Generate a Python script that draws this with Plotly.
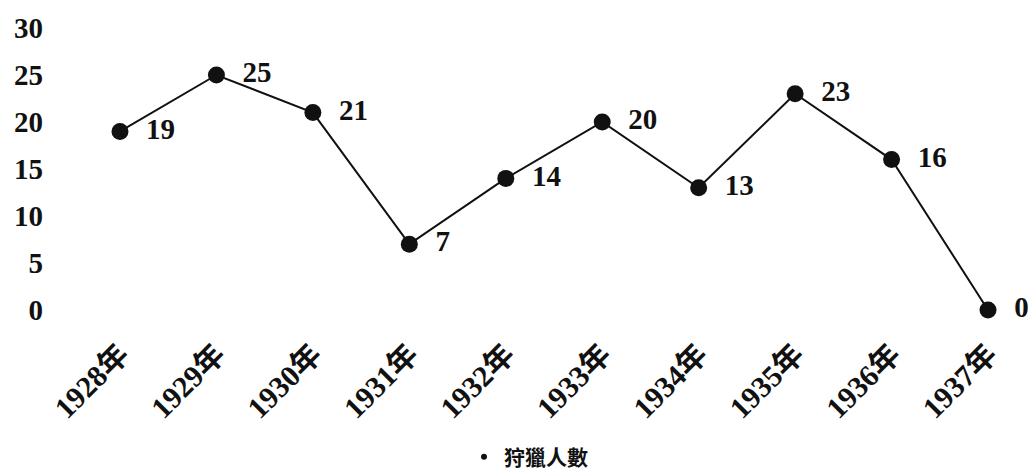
import plotly.graph_objects as go

years = ["1928年", "1929年", "1930年", "1931年", "1932年",
         "1933年", "1934年", "1935年", "1936年", "1937年"]
hunters = [19, 25, 21, 7, 14, 20, 13, 23, 16, 0]
y_ticks = [0, 5, 10, 15, 20, 25, 30]
series_name = "狩獵人數"

serif = "Liberation Serif, Times New Roman, Noto Sans CJK TC, serif"
NB = "\u00a0"

fig = go.Figure()
fig.add_trace(go.Scatter(
    x=years, y=hunters, mode="lines+markers+text",
    text=[NB * 2 + str(v) for v in hunters], textposition="middle right",
    textfont=dict(family=serif, size=29, color="#111", weight="bold"),
    line=dict(color="#111", width=2),
    marker=dict(color="#111", size=17),
    cliponaxis=False, showlegend=False,
))
fig.add_trace(go.Scatter(
    x=[None], y=[None], mode="markers", name=series_name,
    marker=dict(color="#111", size=6), showlegend=True,
))

fig.update_layout(
    width=1031, height=475,
    margin=dict(l=60, r=10, t=20, b=145, autoexpand=False),
    paper_bgcolor="white", plot_bgcolor="white",
    showlegend=True,
    legend=dict(orientation="h", x=0.4875, xanchor="center", y=-0.41, yanchor="middle",
                font=dict(family="Noto Sans CJK TC, serif", size=21, color="#111", weight="bold"),
                itemwidth=30),
    xaxis=dict(type="category", range=[-0.622, 9.342], showgrid=False, zeroline=False,
               showline=False, ticks="", tickangle=-45, automargin=False,
               tickfont=dict(family=serif, size=30, color="#111", weight="bold")),
    yaxis=dict(range=[-2.13, 30.85], tickvals=y_ticks, showgrid=False, zeroline=False,
               showline=False, ticks="", automargin=False, ticklabelstandoff=16,
               tickfont=dict(family=serif, size=29, color="#111", weight="bold")),
)

fig.write_html("out.html")
